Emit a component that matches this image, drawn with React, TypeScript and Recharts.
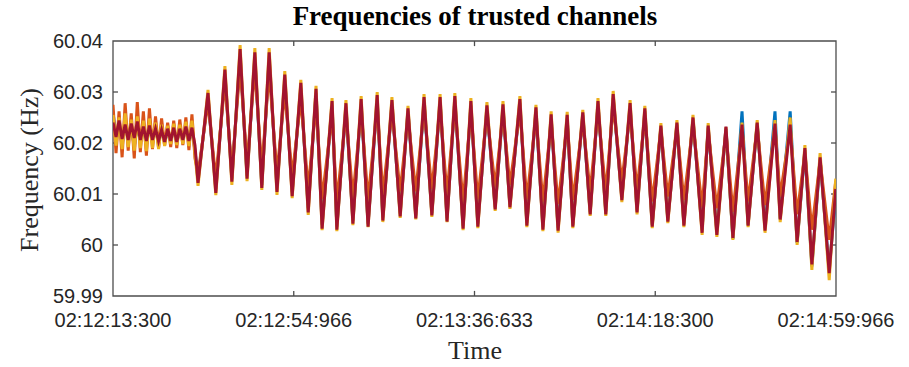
import React from "react";
import {
  LineChart,
  Line,
  XAxis,
  YAxis,
  ReferenceArea,
  ReferenceLine,
} from "recharts";

// time in seconds since 02:12:13.300
const TIME = [
  0, 0.7, 1.4, 2.1, 2.8, 3.5, 4.2, 4.9, 5.6, 6.3, 7.0, 7.7, 8.4, 9.1,
  9.8, 10.5, 11.2, 11.9, 12.6, 13.3, 14.0, 14.7, 15.4, 16.1, 16.8, 17.5, 18.2, 18.9,
  19.6, 21.9, 23.7, 25.8, 27.4, 29.3, 30.9, 32.7, 34.3, 36.0,
  37.8, 39.6, 41.3, 43.3, 45.0, 46.8, 48.2, 50.5, 51.6, 53.7,
  55.3, 57.2, 58.8, 60.9, 62.2, 64.3, 66.2, 68.0, 69.8, 71.7,
  73.5, 75.4, 77.0, 78.8, 80.7, 82.5, 84.1, 86.2, 88.1, 89.9,
  91.5, 93.8, 95.4, 97.5, 99.1, 101.0, 102.6, 104.7, 106.0, 108.3,
  110.0, 111.8, 113.6, 115.3, 117.3, 119.2, 120.8, 122.6, 124.3, 126.3,
  127.9, 130.0, 131.6, 133.7, 135.8, 137.2, 139.2, 141.3, 142.9, 145.0,
  146.4, 148.5, 150.3, 152.6, 153.8, 156.1, 157.7, 159.5, 161.1,
  163.0, 165.1, 166.6,
];

const CH_BLUE = [
  60.0262, 60.0205, 60.024, 60.0195, 60.0245, 60.0205, 60.0236, 60.0192, 60.024, 60.02,
  60.0234, 60.0196, 60.0238, 60.02, 60.023, 60.0198, 60.0228, 60.02, 60.0224, 60.0202,
  60.023, 60.02, 60.0232, 60.0204, 60.0236, 60.02, 60.023, 60.0185,
  60.0128, 60.029, 60.011, 60.0335, 60.013, 60.0372, 60.0136, 60.0368, 60.0118, 60.0366,
  60.0112, 60.0324, 60.0104, 60.0308, 60.0072, 60.0298, 60.004, 60.0274, 60.0036, 60.027,
  60.0048, 60.0276, 60.0042, 60.0284, 60.0054, 60.0276, 60.0062, 60.0262, 60.0058, 60.028,
  60.0062, 60.0282, 60.0052, 60.0284, 60.0038, 60.0274, 60.0042, 60.0266, 60.0074, 60.0268,
  60.0078, 60.0278, 60.0044, 60.0262, 60.0036, 60.025, 60.0034, 60.0248, 60.004, 60.0254,
  60.0064, 60.0276, 60.0066, 60.0288, 60.0092, 60.0272, 60.0068, 60.0262, 60.004, 60.023,
  60.005, 60.0236, 60.0042, 60.0246, 60.003, 60.023, 60.0026, 60.0228, 60.0012, 60.0262,
  60.004, 60.0238, 60.0034, 60.0262, 60.0052, 60.0262, 60.0004, 60.0186, 59.9958, 60.0168,
  59.995, 60.01,
];

const CH_ORANGE = [
  60.0275, 60.018, 60.0262, 60.0172, 60.0278, 60.0185, 60.0258, 60.017, 60.028, 60.0182,
  60.0262, 60.0175, 60.0268, 60.0188, 60.0252, 60.019, 60.0248, 60.0195, 60.024, 60.0192,
  60.0244, 60.019, 60.0246, 60.0196, 60.025, 60.0186, 60.0256, 60.017,
  60.014, 60.028, 60.013, 60.032, 60.0145, 60.035, 60.016, 60.0345, 60.015, 60.034,
  60.014, 60.03, 60.0135, 60.0285, 60.011, 60.0275, 60.009, 60.0255, 60.0085, 60.0255,
  60.0095, 60.0262, 60.009, 60.0268, 60.01, 60.026, 60.0105, 60.025, 60.0105, 60.0265,
  60.011, 60.0268, 60.01, 60.027, 60.0085, 60.026, 60.009, 60.0255, 60.0115, 60.0255,
  60.0118, 60.0262, 60.009, 60.025, 60.0085, 60.024, 60.008, 60.0238, 60.0088, 60.0242,
  60.0105, 60.0262, 60.0105, 60.0272, 60.0125, 60.0258, 60.0108, 60.025, 60.0085, 60.0225,
  60.0095, 60.0228, 60.0088, 60.0236, 60.0075, 60.0222, 60.0072, 60.022, 60.0065, 60.0228,
  60.0085, 60.023, 60.0078, 60.0232, 60.0095, 60.023, 60.006, 60.018, 60.003, 60.0165,
  60.001, 60.0125,
];

const CH_YELLOW = [
  60.0255, 60.0195, 60.025, 60.0188, 60.0258, 60.0192, 60.0246, 60.0185, 60.0252, 60.019,
  60.0244, 60.0184, 60.0248, 60.019, 60.024, 60.0188, 60.0236, 60.0194, 60.0234, 60.0198,
  60.0238, 60.0196, 60.0236, 60.0198, 60.0242, 60.0194, 60.0244, 60.018,
  60.0116, 60.0304, 60.0098, 60.0351, 60.0118, 60.0392, 60.0125, 60.0386, 60.0108, 60.0386,
  60.0098, 60.0341, 60.0092, 60.0324, 60.0059, 60.0312, 60.0029, 60.0288, 60.0027, 60.0284,
  60.0039, 60.0292, 60.0035, 60.03, 60.0045, 60.029, 60.0053, 60.0273, 60.005, 60.0296,
  60.0055, 60.0296, 60.0045, 60.0298, 60.0029, 60.0288, 60.0033, 60.028, 60.0067, 60.0282,
  60.0071, 60.0292, 60.0035, 60.0275, 60.0027, 60.0262, 60.0024, 60.0261, 60.0033, 60.0265,
  60.0057, 60.0288, 60.0057, 60.0302, 60.0084, 60.0284, 60.006, 60.0273, 60.0033, 60.0239,
  60.0043, 60.0245, 60.0035, 60.0255, 60.002, 60.0239, 60.0016, 60.0231, 60.001, 60.024,
  60.0035, 60.0245, 60.0024, 60.0245, 60.0045, 60.025, 60.0, 60.0196, 59.9951, 60.018,
  59.9931, 60.013,
];

const CH_RED = [
  60.024, 60.0212, 60.0244, 60.0208, 60.0236, 60.0206, 60.0238, 60.021, 60.0242, 60.0206,
  60.0232, 60.0204, 60.0234, 60.0206, 60.0228, 60.0204, 60.0226, 60.0202, 60.0228, 60.0204,
  60.023, 60.0202, 60.0228, 60.0206, 60.0232, 60.0204, 60.023, 60.0195,
  60.0122, 60.0298, 60.0102, 60.0344, 60.0124, 60.0384, 60.013, 60.0378, 60.0112, 60.0378,
  60.0104, 60.0334, 60.0096, 60.0318, 60.0064, 60.0306, 60.0032, 60.0282, 60.003, 60.0278,
  60.0042, 60.0286, 60.0036, 60.0294, 60.0048, 60.0284, 60.0056, 60.0268, 60.0052, 60.029,
  60.0058, 60.029, 60.0046, 60.0292, 60.0032, 60.0282, 60.0036, 60.0274, 60.007, 60.0276,
  60.0074, 60.0286, 60.0038, 60.027, 60.003, 60.0256, 60.0028, 60.0255, 60.0036, 60.026,
  60.006, 60.0282, 60.006, 60.0296, 60.0088, 60.0278, 60.0064, 60.0268, 60.0036, 60.0234,
  60.0046, 60.024, 60.0038, 60.025, 60.0024, 60.0234, 60.002, 60.0232, 60.0014, 60.0236,
  60.0038, 60.024, 60.0028, 60.0238, 60.005, 60.0236, 60.0006, 60.019, 59.9962, 60.0172,
  59.9945, 60.011,
];

const X_MAX = 166.666;
const X_TICKS = [0, 41.6665, 83.333, 124.9995, 166.666];
const X_LABELS = ["02:12:13:300", "02:12:54:966", "02:13:36:633", "02:14:18:300", "02:14:59:966"];
const Y_TICKS = [59.99, 60, 60.01, 60.02, 60.03, 60.04];

const data = TIME.map((t, i) => ({
  t,
  blue: CH_BLUE[i],
  orange: CH_ORANGE[i],
  yellow: CH_YELLOW[i],
  red: CH_RED[i],
}));

const tickFont = { fontFamily: "'Liberation Sans', Arial, sans-serif", fontSize: 20, fill: "#262626" };
const serif = "'Liberation Serif', 'Times New Roman', serif";
const axisColor = "#4d4d4d";

export default function App() {
  return (
    <div style={{ position: "absolute", left: 0, top: 0, width: 909, height: 367, background: "#fff" }}>
      <LineChart width={909} height={367} data={data} margin={{ top: 41, right: 73, bottom: 0, left: 0 }}>
        <XAxis
          dataKey="t"
          type="number"
          domain={[0, X_MAX]}
          ticks={X_TICKS}
          interval={0}
          allowDataOverflow
          tickFormatter={(v, i) => X_LABELS[i]}
          tick={tickFont}
          tickLine={false}
          axisLine={false}
          tickSize={0}
          tickMargin={17}
          height={71}
        />
        <YAxis
          type="number"
          domain={[59.99, 60.04]}
          ticks={Y_TICKS}
          interval={0}
          allowDataOverflow
          tickFormatter={(v) => v.toFixed(2).replace(/\.?0+$/, "")}
          tick={tickFont}
          tickLine={false}
          axisLine={false}
          tickSize={0}
          tickMargin={10}
          width={113}
        />
        <ReferenceArea x1={0} x2={X_MAX} y1={59.99} y2={60.04} fill="none" stroke={axisColor} strokeWidth={1.3} />
        {X_TICKS.slice(1, -1).map((x) => (
          <ReferenceLine key={"b" + x} segment={[{ x, y: 59.99 }, { x, y: 59.991 }]} stroke={axisColor} strokeWidth={1.3} />
        ))}
        {X_TICKS.slice(1, -1).map((x) => (
          <ReferenceLine key={"t" + x} segment={[{ x, y: 60.04 }, { x, y: 60.039 }]} stroke={axisColor} strokeWidth={1.3} />
        ))}
        {Y_TICKS.slice(1, -1).map((y) => (
          <ReferenceLine key={"l" + y} segment={[{ x: 0, y }, { x: 1.15, y }]} stroke={axisColor} strokeWidth={1.3} />
        ))}
        {Y_TICKS.slice(1, -1).map((y) => (
          <ReferenceLine key={"r" + y} segment={[{ x: X_MAX, y }, { x: X_MAX - 1.15, y }]} stroke={axisColor} strokeWidth={1.3} />
        ))}
        <Line dataKey="blue" stroke="#0072BD" strokeWidth={3} dot={false} type="linear" isAnimationActive={false} />
        <Line dataKey="orange" stroke="#D95319" strokeWidth={3} dot={false} type="linear" isAnimationActive={false} />
        <Line dataKey="yellow" stroke="#EDB120" strokeWidth={3} dot={false} type="linear" isAnimationActive={false} />
        <Line dataKey="red" stroke="#A2142F" strokeWidth={3} dot={false} type="linear" isAnimationActive={false} />
      </LineChart>
      <div
        style={{
          position: "absolute",
          left: 475,
          top: 3,
          transform: "translateX(-50%)",
          whiteSpace: "nowrap",
          fontFamily: serif,
          fontWeight: "bold",
          fontSize: 27,
          lineHeight: "27px",
          color: "#000",
        }}
      >
        Frequencies of trusted channels
      </div>
      <div
        style={{
          position: "absolute",
          left: 475,
          top: 338,
          transform: "translateX(-50%)",
          whiteSpace: "nowrap",
          fontFamily: serif,
          fontSize: 26,
          lineHeight: "26px",
          color: "#262626",
        }}
      >
        Time
      </div>
      <div
        style={{
          position: "absolute",
          left: 30,
          top: 170,
          transform: "translate(-50%, -50%) rotate(-90deg)",
          whiteSpace: "nowrap",
          fontFamily: serif,
          fontSize: 26,
          lineHeight: "26px",
          color: "#262626",
        }}
      >
        Frequency (Hz)
      </div>
    </div>
  );
}
